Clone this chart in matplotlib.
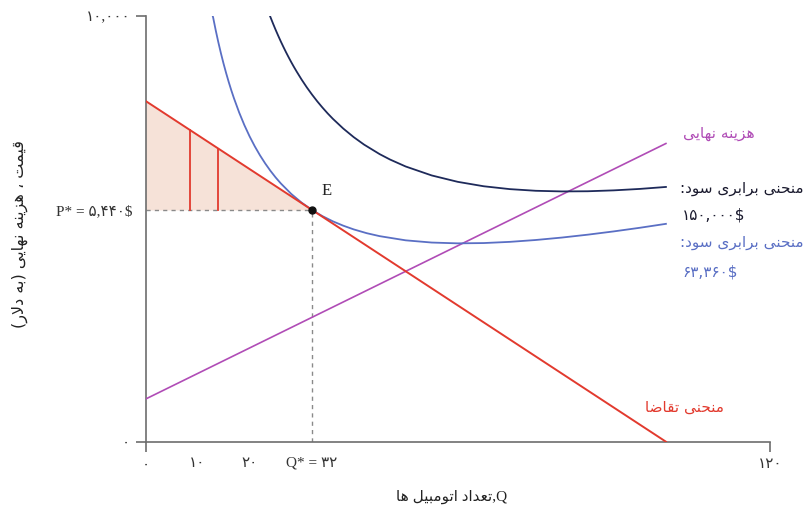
import matplotlib
matplotlib.use("Agg")
import matplotlib.pyplot as plt

# ---------------- data ----------------
demand_q = [0, 100]
demand_p = [8000, 0]
mc_q = [0, 100]
mc_p = [1000, 7000]
Q_star = 32
P_star = 5440
red_lines_q = [8.5, 14]

# isoprofit curve, profit 63,360
iso1_q = [12.9, 13, 13.5, 14, 14.5, 15, 15.5, 16, 16.5, 17, 18, 19, 20, 21, 22, 23,
          24, 25, 26, 28, 30, 32, 34, 36, 38, 40, 42.5, 45, 50, 55, 60, 65, 70, 75,
          80, 85, 90, 95, 100]
iso1_p = [10000, 9956, 9654, 9374, 9115, 8874, 8650, 8440, 8244, 8061, 7727, 7431,
          7168, 6933, 6722, 6532, 6360, 6204, 6063, 5817, 5612, 5440, 5295, 5173,
          5071, 4984, 4895, 4825, 4727, 4675, 4656, 4663, 4691, 4735, 4792, 4860,
          4937, 5022, 5114]
# isoprofit curve, profit 150,000
iso2_q = [23.9, 24, 24.5, 25, 25.5, 26, 26.5, 27, 27.5, 28, 28.5, 29, 30, 31, 32, 33,
          34, 35, 36, 38, 40, 42, 45, 47, 50, 55, 60, 65, 70, 75, 80, 85, 90, 95, 100]
iso2_p = [10000, 9970, 9817, 9670, 9530, 9395, 9267, 9143, 9025, 8911, 8802, 8698,
          8500, 8317, 8148, 7990, 7844, 7707, 7580, 7351, 7150, 6974, 6750, 6623,
          6460, 6250, 6100, 5996, 5929, 5890, 5875, 5879, 5900, 5934, 5980]

x_major = [0, 120]
x_major_labels = ["۰", "۱۲۰"]
x_minor = [10, 20, Q_star]
x_minor_labels = ["۱۰", "۲۰", "Q* = ۳۲"]
y_major = [0, 10000]
y_major_labels = ["۰", "۱۰,۰۰۰"]
y_minor = [P_star]
y_minor_labels = ["P* = ۵,۴۴۰$"]

# ---------------- Persian shaping helpers ----------------
FORMS = {
    'ا': (0xFE8D, 0xFE8E, None, None),
    'ب': (0xFE8F, 0xFE90, 0xFE91, 0xFE92),
    'ت': (0xFE95, 0xFE96, 0xFE97, 0xFE98),
    'ح': (0xFEA1, 0xFEA2, 0xFEA3, 0xFEA4),
    'خ': (0xFEA5, 0xFEA6, 0xFEA7, 0xFEA8),
    'د': (0xFEA9, 0xFEAA, None, None),
    'ر': (0xFEAD, 0xFEAE, None, None),
    'ز': (0xFEAF, 0xFEB0, None, None),
    'س': (0xFEB1, 0xFEB2, 0xFEB3, 0xFEB4),
    'ض': (0xFEBD, 0xFEBE, 0xFEBF, 0xFEC0),
    'ع': (0xFEC9, 0xFECA, 0xFECB, 0xFECC),
    'ق': (0xFED5, 0xFED6, 0xFED7, 0xFED8),
    'ل': (0xFEDD, 0xFEDE, 0xFEDF, 0xFEE0),
    'م': (0xFEE1, 0xFEE2, 0xFEE3, 0xFEE4),
    'ن': (0xFEE5, 0xFEE6, 0xFEE7, 0xFEE8),
    'ه': (0xFEE9, 0xFEEA, 0xFEEB, 0xFEEC),
    'و': (0xFEED, 0xFEEE, None, None),
    'ی': (0xFEEF, 0xFEF0, 0xFEF3, 0xFEF4),
}
DUAL = set('بتحخسضعقلمنهی')


def joins(c):
    return c in FORMS


def shape(text):
    out = []
    n = len(text)
    i = 0
    while i < n:
        c = text[i]
        if c not in FORMS:
            out.append(c)
            i += 1
            continue
        prev = text[i - 1] if i > 0 else ''
        nxt = text[i + 1] if i + 1 < n else ''
        cp = prev in DUAL
        if c == 'ل' and nxt == 'ا':
            out.append(chr(0xFEFC if cp else 0xFEFB))
            i += 2
            continue
        cn = c in DUAL and joins(nxt)
        iso, fin, ini, med = FORMS[c]
        if cp and cn:
            code = med
        elif cp:
            code = fin
        elif cn:
            code = ini
        else:
            code = iso
        out.append(chr(code))
        i += 1
    vis = ''.join(reversed(out))
    vis = vis.replace('(', '\0').replace(')', '(').replace('\0', ')')
    return vis


FA = ['DejaVu Sans']
SER = ['Liberation Serif', 'DejaVu Sans']

# ---------------- figure ----------------
W, H = 810, 517
fig = plt.figure(figsize=(W / 100, H / 100), dpi=100)
x0, x1, y0, y1 = 145.5, 770.0, 441.7, 15.7
ax = fig.add_axes([x0 / W, 1 - y0 / H, (x1 - x0) / W, (y0 - y1) / H])
ax.set_xlim(0, 120)
ax.set_ylim(0, 10000)

axis_col = '#6d6d6d'
for s in ['top', 'right']:
    ax.spines[s].set_visible(False)
for s in ['left', 'bottom']:
    ax.spines[s].set_color(axis_col)
    ax.spines[s].set_linewidth(1.2)

tick_col = '#333333'
ax.set_xticks(x_major)
ax.set_xticklabels(x_major_labels, family=SER, fontsize=11, color=tick_col)
ax.set_xticks(x_minor, minor=True)
ax.set_xticklabels(x_minor_labels, minor=True, family=SER, fontsize=11, color=tick_col)
ax.set_yticks(y_major)
ax.set_yticklabels(y_major_labels, family=SER, fontsize=11, color=tick_col)
ax.set_yticks(y_minor, minor=True)
ax.set_yticklabels(y_minor_labels, minor=True, family=SER, fontsize=11, color=tick_col)
ax.tick_params(axis='x', which='major', length=7, width=1.2, color=axis_col, pad=5)
ax.tick_params(axis='x', which='minor', length=0, pad=11)
ax.tick_params(axis='y', which='major', length=7, width=1.2, color=axis_col, pad=4)
ax.tick_params(axis='y', which='minor', length=0, pad=9)

red = '#e23a2e'
mag = '#b04cb6'
lblue = '#5a6fc4'
navy = '#1e2a5a'

# shaded triangle
fq = [0, Q_star]
fp = [demand_p[0], P_star]
ax.fill_between(fq, fp, [P_star, P_star], color='#f6e2d8', lw=0, zorder=1)
for q in red_lines_q:
    p_top = demand_p[0] + (demand_p[1] - demand_p[0]) * (q - demand_q[0]) / (demand_q[1] - demand_q[0])
    ax.plot([q, q], [P_star, p_top], color=red, lw=1.3, zorder=3)

# dashed guides
ax.plot([0, Q_star], [P_star, P_star], ls=(0, (3, 3)), color='#8a8a8a', lw=1.0, zorder=2)
ax.plot([Q_star, Q_star], [0, P_star], ls=(0, (3, 3)), color='#8a8a8a', lw=1.0, zorder=2)

ax.plot(mc_q, mc_p, color=mag, lw=1.2, zorder=3)
ax.plot(iso2_q, iso2_p, color=navy, lw=1.3, zorder=3, solid_joinstyle='round')
ax.plot(iso1_q, iso1_p, color=lblue, lw=1.3, zorder=3, solid_joinstyle='round')
ax.plot(demand_q, demand_p, color=red, lw=1.4, zorder=4)
ax.plot([Q_star], [P_star], 'o', color='#111111', ms=5, zorder=5)
ax.text(Q_star + 1.8, P_star + 250, 'E', family=SER, fontsize=12, color='#222222',
        ha='left', va='bottom')


def ftext(px, py, s, **kw):
    fig.text(px / W, 1 - py / H, s, **kw)


ftext(683, 133, shape('هزینه نهایی'), family=FA, fontsize=11, color=mag,
      ha='left', va='center')
ftext(680, 188, ':' + shape('منحنی برابری سود'), family=FA, fontsize=11,
      color='#1a1a2e', ha='left', va='center')
ftext(682, 215, '۱۵۰,۰۰۰$', family=FA, fontsize=11, color='#1a1a2e',
      ha='left', va='center')
ftext(680, 243, ':' + shape('منحنی برابری سود'), family=FA, fontsize=11,
      color=lblue, ha='left', va='center')
ftext(682, 272, '۶۳,۳۶۰$', family=FA, fontsize=11, color=lblue,
      ha='left', va='center')
ftext(645, 407, shape('منحنی تقاضا'), family=FA, fontsize=11, color=red,
      ha='left', va='center')

# axis titles
ftext(452, 497, shape('تعداد اتومبیل ها') + ',Q', family=SER, fontsize=11,
      color='#222222', ha='center', va='center')
ftext(20, 234, shape('قیمت ، هزینه نهایی (به دلار)'), family=FA, fontsize=11.5,
      color='#222222', ha='center', va='center', rotation=90)

fig.savefig('out.png', dpi=100)
